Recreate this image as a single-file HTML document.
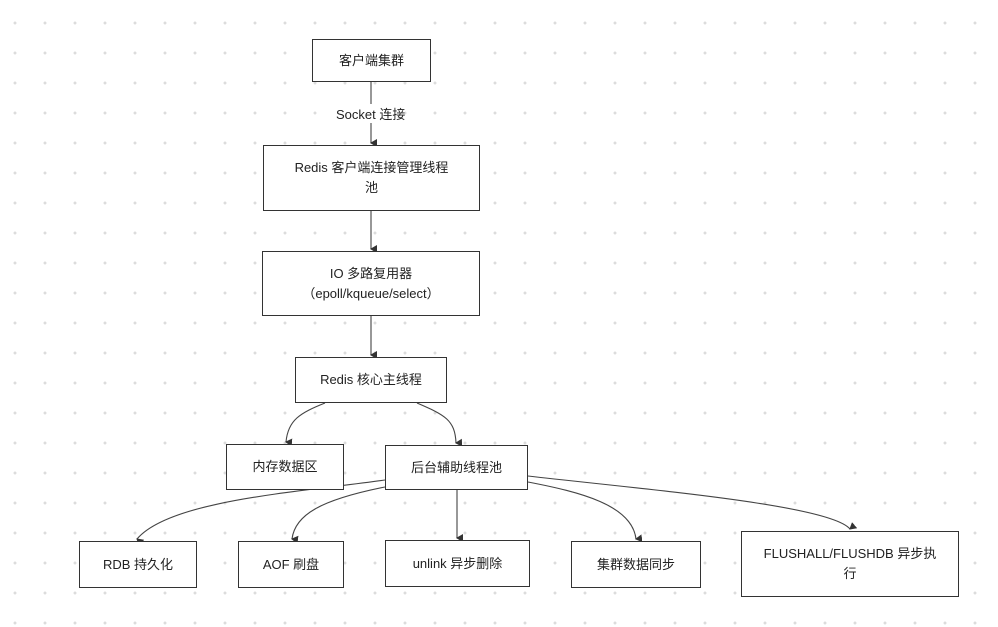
<!DOCTYPE html>
<html><head><meta charset="utf-8"><style>
html,body{margin:0;padding:0;background:#fff;}
body{width:998px;height:627px;overflow:hidden;position:relative;
background-image:radial-gradient(circle,#dcdcdc 1.3px,transparent 1.6px);
background-size:30px 30px;background-position:0px 8px;}
.b{position:absolute;box-sizing:border-box;border:1.3px solid #333;background:#fff;display:flex;align-items:center;justify-content:center;text-align:center;font-family:"Liberation Sans","Noto Sans CJK SC",sans-serif;font-size:13px;color:#222;line-height:20px;white-space:nowrap;}
.t{position:absolute;font-family:"Liberation Sans","Noto Sans CJK SC",sans-serif;font-size:13px;color:#222;background:#fff;}
svg{position:absolute;left:0;top:0;}
</style></head><body>
<svg width="998" height="627">
<defs><marker id="a" markerWidth="8" markerHeight="8" refX="4" refY="6" orient="auto-start-reverse" markerUnits="userSpaceOnUse"><path d="M0,0 L4,7 L8,0 Z" fill="#333"/></marker></defs>
<g stroke="#444" stroke-width="1.1" fill="none" marker-end="url(#a)">
<path d="M371,82 V143"/>
<path d="M371,211 V249"/>
<path d="M371,316 V355"/>
<path d="M325,403 C300,413 288,420 286,442"/>
<path d="M417,403 C445,415 455,420 456,443"/>
<path d="M385,480 C300,492 170,500 137,539"/>
<path d="M385,487 C320,500 295,515 292,539"/>
<path d="M457,490 V538"/>
<path d="M528,482 C580,492 632,505 636,539"/>
<path d="M528,476 C650,490 830,505 850,529"/>
</g>
</svg>
<div class="t" style="left:336px;top:104px">Socket 连接</div>
<div class="b" style="left:312px;top:39px;width:119px;height:43px">客户端集群</div>
<div class="b" style="left:263px;top:145px;width:217px;height:66px;border-width:1.6px">Redis 客户端连接管理线程<br>池</div>
<div class="b" style="left:262px;top:251px;width:218px;height:65px">IO 多路复用器<br>（epoll/kqueue/select）</div>
<div class="b" style="left:295px;top:357px;width:152px;height:46px">Redis 核心主线程</div>
<div class="b" style="left:226px;top:444px;width:118px;height:46px;border-width:1.6px">内存数据区</div>
<div class="b" style="left:385px;top:445px;width:143px;height:45px">后台辅助线程池</div>
<div class="b" style="left:79px;top:541px;width:118px;height:47px;border-width:1.6px">RDB 持久化</div>
<div class="b" style="left:238px;top:541px;width:106px;height:47px;border-width:1.6px">AOF 刷盘</div>
<div class="b" style="left:385px;top:540px;width:145px;height:47px">unlink 异步删除</div>
<div class="b" style="left:571px;top:541px;width:130px;height:47px">集群数据同步</div>
<div class="b" style="left:741px;top:531px;width:218px;height:66px">FLUSHALL/FLUSHDB 异步执<br>行</div>
</body></html>
